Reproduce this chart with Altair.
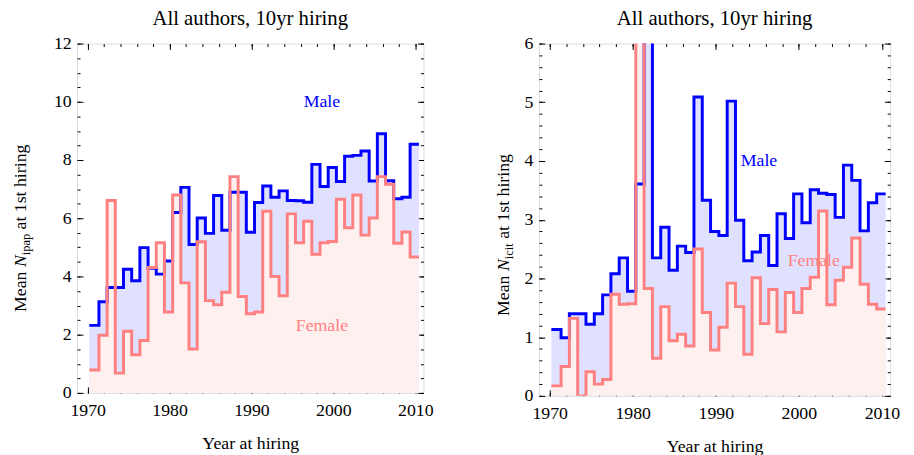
import altair as alt
import pandas as pd

# ---------------- data ----------------
years = list(range(1971, 2011))

ipap_male = [2.32, 3.13, 3.62, 3.62, 4.25, 3.85, 4.99, 4.28, 4.08, 4.53,
             6.20, 7.06, 5.10, 6.01, 5.48, 6.78, 5.59, 6.89, 6.89, 5.52,
             6.54, 7.11, 6.72, 6.94, 6.61, 6.60, 6.55, 7.85, 7.09, 7.74,
             7.26, 8.13, 8.16, 8.31, 7.28, 8.90, 7.29, 6.67, 6.72, 8.54]
ipap_female = [0.79, 1.98, 6.61, 0.68, 2.12, 1.31, 1.80, 4.31, 5.16, 2.78,
               6.80, 3.78, 1.51, 5.19, 3.17, 3.03, 3.46, 7.43, 3.31, 2.72,
               2.78, 6.24, 4.00, 3.34, 6.15, 5.16, 5.90, 4.76, 5.16, 5.20,
               6.65, 5.67, 6.80, 5.42, 6.01, 7.43, 7.17, 5.14, 5.53, 4.67]

icit_male = [1.13, 0.99, 1.40, 1.40, 1.22, 1.40, 1.72, 2.08, 2.35, 1.78,
             3.61, 8.00, 2.35, 2.87, 2.14, 2.55, 2.44, 5.09, 3.33, 2.80,
             2.73, 5.02, 2.99, 2.30, 2.45, 2.73, 2.22, 3.10, 2.68, 3.44,
             2.95, 3.51, 3.45, 3.43, 3.04, 3.93, 3.67, 2.81, 3.29, 3.44]
icit_female = [0.17, 0.50, 1.32, 0.00, 0.41, 0.20, 0.28, 1.73, 1.56, 1.57,
               9.00, 1.83, 0.64, 1.52, 0.94, 1.05, 0.85, 2.50, 1.42, 0.78,
               1.17, 1.92, 1.52, 0.71, 2.01, 1.23, 1.81, 1.09, 1.76, 1.42,
               1.83, 2.02, 3.15, 1.55, 1.97, 2.19, 2.69, 1.90, 1.56, 1.48]

x_major = [1970, 1980, 1990, 2000, 2010]
x_minor = list(range(1970, 2011, 2))

label_text = ["Male", "Female"]
left_label_x = [1998.6, 1998.6]
left_label_y = [10.0, 2.3]
right_label_x = [1995.2, 2001.8]
right_label_y = [4.0, 2.3]

title_text = "All authors, 10yr hiring"

# ---------------- styling ----------------
FONT = "Liberation Serif"
BLUE = "#0000FF"
PINK = "#FF8080"
BLUE_FILL = "#E0E0FF"
PINK_FILL = "#FFF0F0"
X_DOMAIN = [1968.7, 2011.0]
FIRST_EDGE = 1970.2
EDGE_SHIFT = 0.63
LAST_EDGE = 2010.45
FS = 18


def step_frame(vals):
    edges = [FIRST_EDGE] + [y - EDGE_SHIFT for y in years[1:]] + [LAST_EDGE]
    v = list(vals) + [vals[-1]]
    return pd.DataFrame({"year": edges, "value": v})


def tick_axis(orient, offset, values, size):
    return alt.Axis(orient=orient, offset=offset, values=values, labels=False,
                    domain=False, ticks=True, tickSize=size, tickColor="black",
                    tickWidth=1, grid=False)


def panel(male, female, ymax, y_major_step, y_minor_step, sub, sub_em,
          W, H, lab_x, lab_y, yt_x, yt_y):
    xs = alt.Scale(domain=X_DOMAIN, nice=False, zero=False)
    ys = alt.Scale(domain=[0, ymax], nice=False, zero=False)
    n_maj = int(round(ymax / y_major_step))
    y_major = [round(i * y_major_step, 3) for i in range(n_maj + 1)]
    n_min = int(round(ymax / y_minor_step))
    y_minor = [round(i * y_minor_step, 3) for i in range(n_min + 1)]

    x_lab_axis = alt.Axis(orient="bottom", values=x_major, ticks=False, domain=False,
                          grid=False, format="d", labelFont=FONT, labelFontSize=FS,
                          labelColor="black", labelPadding=9, title="Year at hiring",
                          titleFont=FONT, titleFontSize=FS, titleFontWeight="normal",
                          titleColor="black", titlePadding=15)
    y_lab_axis = alt.Axis(orient="left", values=y_major, ticks=False, domain=False,
                          grid=False, format="d", labelFont=FONT, labelFontSize=FS,
                          labelColor="black", labelPadding=6)

    dm = step_frame(male)
    dfm = step_frame(female)

    blue_area = alt.Chart(dm).mark_area(interpolate="step-after", color=BLUE_FILL,
                                        clip=True).encode(
        x=alt.X("year:Q", scale=xs, axis=x_lab_axis),
        y=alt.Y("value:Q", scale=ys, axis=y_lab_axis, title=None))
    pink_area = alt.Chart(dfm).mark_area(interpolate="step-after", color=PINK_FILL,
                                         clip=True).encode(
        x=alt.X("year:Q", scale=xs, axis=tick_axis("top", -H, x_major, 6), title=None),
        y=alt.Y("value:Q", scale=ys, axis=tick_axis("right", -W, y_major, 6), title=None))
    blue_line = alt.Chart(dm).mark_line(interpolate="step-after", color=BLUE,
                                        strokeWidth=3, clip=True).encode(
        x=alt.X("year:Q", scale=xs, axis=tick_axis("top", -H, x_minor, 3), title=None),
        y=alt.Y("value:Q", scale=ys, axis=tick_axis("right", -W, y_minor, 3), title=None))
    pink_line = alt.Chart(dfm).mark_line(interpolate="step-after", color=PINK,
                                         strokeWidth=3, clip=True).encode(
        x=alt.X("year:Q", scale=xs, axis=tick_axis("bottom", -H, x_major, 6), title=None),
        y=alt.Y("value:Q", scale=ys, axis=tick_axis("left", -W, y_major, 6), title=None))
    lab_df = pd.DataFrame({"x": lab_x, "y": lab_y, "t": label_text})
    labels = alt.Chart(lab_df).mark_text(font=FONT, fontSize=FS).encode(
        x=alt.X("x:Q", scale=xs, axis=tick_axis("bottom", -H, x_minor, 3), title=None),
        y=alt.Y("y:Q", scale=ys, axis=tick_axis("left", -W, y_minor, 3), title=None),
        text="t:N",
        color=alt.Color("t:N", scale=alt.Scale(domain=["Male", "Female"], range=[BLUE, PINK]),
                        legend=None))

    # rotated y-axis title made of pieces (subscript)
    one = pd.DataFrame({"a": [0]})
    pieces = []
    y = yt_y
    pieces.append(("Mean", yt_x, y, FS, "normal"))
    y -= 2.527 * FS
    pieces.append(("N", yt_x, y, FS, "italic"))
    y -= 0.667 * FS
    pieces.append((sub, yt_x + 4, y, FS * 0.7, "normal"))
    y -= sub_em * FS + 0.25 * FS
    pieces.append(("at 1st hiring", yt_x, y, FS, "normal"))
    title_layers = [
        alt.Chart(one).mark_text(text=t, angle=270, align="left", baseline="alphabetic",
                                 font=FONT, fontSize=fs, fontStyle=st, color="black").encode(
            x=alt.value(px), y=alt.value(py))
        for (t, px, py, fs, st) in pieces
    ]

    return alt.layer(blue_area, pink_area, blue_line, pink_line, labels, *title_layers).resolve_axis(
        x="independent", y="independent").properties(
        width=W, height=H,
        title=alt.TitleParams(title_text, font=FONT, fontSize=21, fontWeight="normal",
                              color="black", offset=6, anchor="middle"))


left = panel(ipap_male, ipap_female, 12, 2, 0.5, "ipap", 1.205, 351, 354,
             left_label_x, left_label_y, -52, 272)
right = panel(icit_male, icit_female, 6, 1, 0.2, "icit", 0.895, 356, 357,
              right_label_x, right_label_y, -30, 276)

chart = alt.hconcat(left, right, spacing=61).properties(
    padding={"left": 3, "top": -4, "right": 5, "bottom": 5}
).configure_view(stroke="black", strokeWidth=1).configure(background="white")

chart.save("out.html", embed_options={"renderer": "svg", "actions": False})
